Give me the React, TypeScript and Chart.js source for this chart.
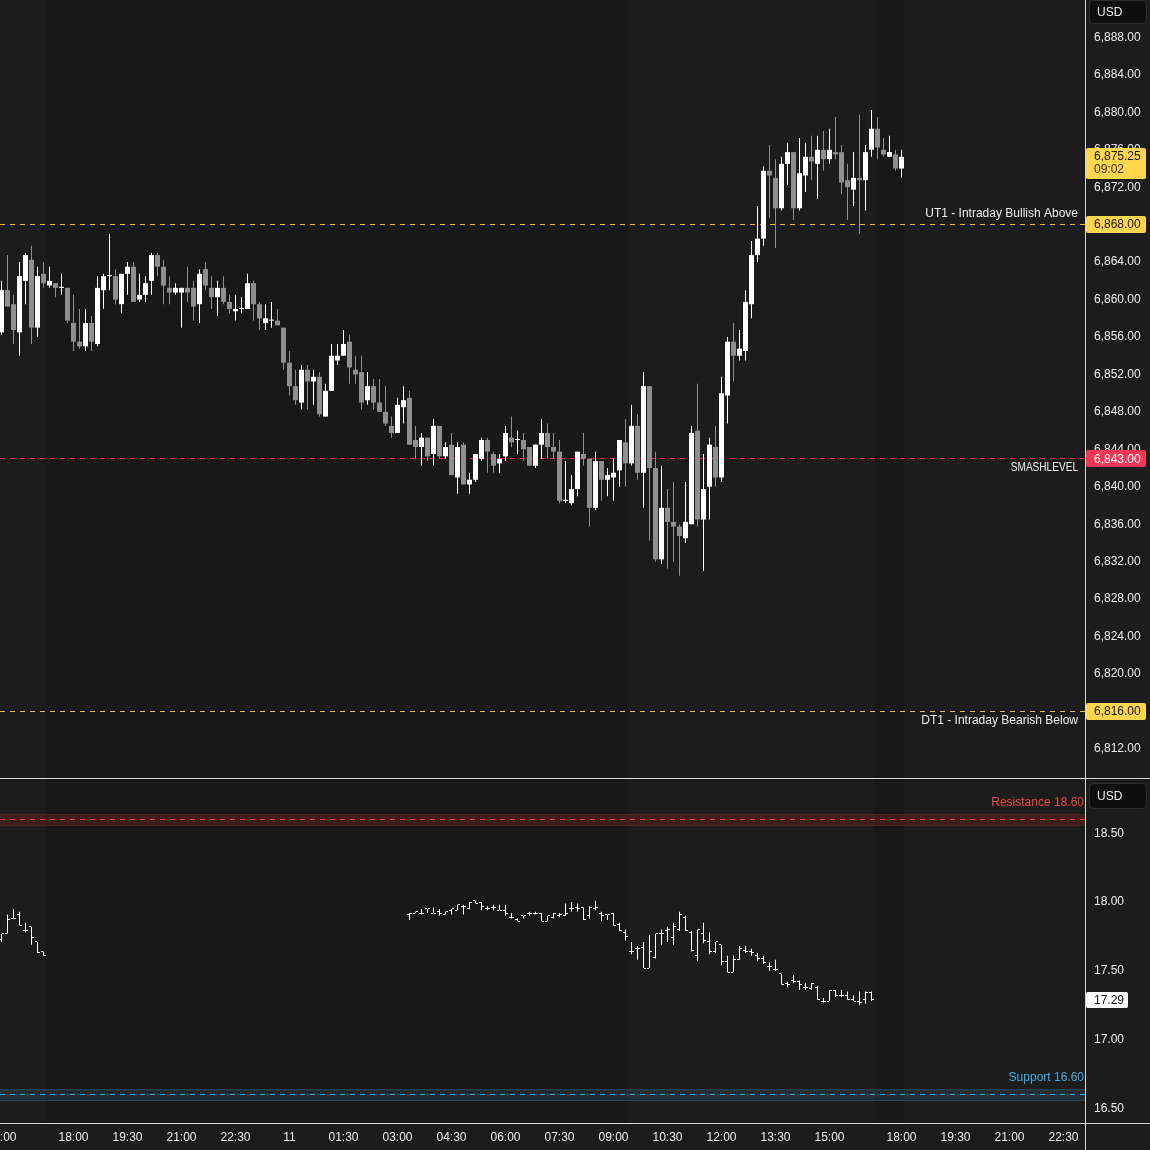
import React, { useEffect, useRef } from 'react';
import { Chart, registerables } from 'chart.js';

Chart.register(...registerables);

// ---------- E-mini S&P 500, 10-minute candles (bar index 0 = 15:00 previous day) ----------
const esOpen = [
  6856.5, 6861.0, 6859.5, 6856.5, 6862.0, 6864.25, 6857.0, 6862.75, 6861.5, 6861.75,
  6861.25, 6861.25, 6857.5, 6855.5, 6855.0, 6857.5, 6855.25, 6861.0, 6862.5, 6862.5,
  6859.5, 6862.75, 6863.5, 6860.0, 6860.5, 6862.0, 6864.75, 6863.5, 6861.25, 6860.75,
  6860.75, 6861.25, 6861.25, 6859.5, 6863.25, 6861.25, 6860.25, 6861.25, 6859.75, 6858.75,
  6859.0, 6859.0, 6861.75, 6859.5, 6857.5, 6857.75, 6857.75, 6857.0, 6853.25, 6850.75,
  6849.0, 6852.5, 6851.25, 6851.75, 6847.5, 6850.25, 6853.5, 6854.0, 6855.5, 6852.5,
  6852.25, 6849.25, 6850.75, 6849.0, 6848.0, 6846.5, 6845.75, 6848.5, 6849.5, 6845.0,
  6844.25, 6845.25, 6843.5, 6846.5, 6843.25, 6844.5, 6841.0, 6844.5, 6840.25, 6840.75,
  6843.0, 6845.0, 6843.5, 6842.5, 6843.25, 6845.25, 6845.0, 6845.0, 6844.25, 6842.25,
  6844.5, 6845.75, 6844.25, 6843.75, 6838.5, 6838.25, 6839.75, 6843.5, 6843.0, 6837.75,
  6842.75, 6840.75, 6841.0, 6841.75, 6844.75, 6842.5, 6846.5, 6841.5, 6850.75, 6842.0,
  6832.25, 6837.75, 6836.25, 6835.75, 6834.5, 6836.0, 6846.0, 6836.5, 6840.0, 6844.25,
  6841.0, 6849.75, 6855.5, 6854.0, 6854.5, 6859.5, 6864.75, 6866.5, 6873.75, 6873.0,
  6869.75, 6874.5, 6875.75, 6869.75, 6873.25, 6875.25, 6874.5, 6876.0, 6875.0, 6875.75,
  6875.75, 6872.75, 6871.75, 6873.0, 6872.75, 6876.0, 6878.25, 6876.0, 6875.25, 6875.5,
  6874.0,
];
const esHigh = [
  6862.0, 6864.75, 6860.5, 6864.0, 6865.0, 6865.75, 6863.5, 6864.0, 6863.5, 6861.75,
  6862.75, 6861.25, 6860.5, 6859.0, 6859.0, 6858.25, 6862.5, 6862.75, 6867.0, 6863.25,
  6862.75, 6864.0, 6864.0, 6862.75, 6862.5, 6865.0, 6865.0, 6864.25, 6862.5, 6861.75,
  6861.25, 6863.5, 6862.0, 6863.25, 6864.0, 6862.5, 6862.0, 6862.5, 6860.5, 6860.5,
  6860.25, 6862.75, 6862.0, 6859.75, 6859.5, 6859.75, 6859.0, 6857.0, 6854.5, 6852.5,
  6853.0, 6853.0, 6852.5, 6852.25, 6851.0, 6855.25, 6855.25, 6856.75, 6856.25, 6854.0,
  6854.0, 6852.25, 6851.5, 6851.5, 6850.75, 6847.5, 6849.5, 6850.75, 6850.25, 6846.5,
  6845.75, 6845.25, 6847.25, 6846.5, 6844.75, 6845.75, 6844.75, 6844.75, 6841.5, 6843.5,
  6845.25, 6845.25, 6843.75, 6843.5, 6846.5, 6847.5, 6846.0, 6845.75, 6844.25, 6844.5,
  6847.25, 6846.75, 6845.75, 6845.0, 6842.75, 6841.25, 6843.75, 6845.75, 6843.0, 6843.75,
  6842.75, 6842.0, 6843.0, 6845.0, 6847.25, 6848.75, 6847.75, 6852.25, 6850.75, 6843.75,
  6842.25, 6839.75, 6840.5, 6836.0, 6840.5, 6846.5, 6851.0, 6843.5, 6845.25, 6846.5,
  6851.75, 6856.0, 6857.5, 6856.75, 6861.0, 6866.25, 6870.0, 6874.25, 6876.5, 6875.0,
  6875.25, 6876.75, 6875.75, 6877.25, 6876.75, 6877.5, 6877.5, 6878.0, 6878.25, 6879.5,
  6876.5, 6874.5, 6875.75, 6879.75, 6876.5, 6880.25, 6879.5, 6877.25, 6877.5, 6876.0,
  6876.0,
];
const esLow = [
  6856.25, 6859.25, 6855.25, 6854.0, 6859.5, 6855.25, 6856.0, 6861.25, 6861.25, 6860.25,
  6860.5, 6857.5, 6854.5, 6854.75, 6854.5, 6854.5, 6855.0, 6859.0, 6861.0, 6859.5,
  6858.5, 6860.5, 6859.75, 6859.75, 6859.75, 6860.5, 6862.5, 6859.5, 6859.5, 6860.5,
  6857.0, 6859.75, 6857.75, 6857.5, 6861.0, 6859.0, 6858.25, 6859.5, 6858.5, 6857.75,
  6858.5, 6859.0, 6857.75, 6856.75, 6856.75, 6857.0, 6857.25, 6852.5, 6849.75, 6848.75,
  6848.25, 6848.25, 6848.75, 6847.5, 6847.5, 6850.25, 6853.0, 6854.0, 6851.0, 6851.0,
  6848.25, 6848.75, 6848.25, 6848.0, 6846.5, 6845.25, 6845.75, 6846.75, 6844.5, 6843.0,
  6842.25, 6842.75, 6842.25, 6843.0, 6843.0, 6841.25, 6839.25, 6840.25, 6839.25, 6840.5,
  6842.75, 6841.5, 6841.5, 6841.5, 6842.75, 6844.25, 6843.5, 6842.75, 6842.25, 6842.0,
  6843.0, 6843.0, 6843.0, 6838.25, 6838.25, 6838.0, 6839.0, 6842.25, 6835.75, 6837.5,
  6838.5, 6839.0, 6838.5, 6840.0, 6840.0, 6842.25, 6840.75, 6837.75, 6834.25, 6832.0,
  6831.75, 6831.25, 6832.0, 6830.5, 6834.0, 6836.0, 6835.75, 6831.0, 6836.5, 6840.0,
  6840.5, 6846.75, 6851.25, 6853.5, 6853.5, 6858.0, 6864.0, 6865.75, 6868.75, 6865.5,
  6869.5, 6872.25, 6868.5, 6869.5, 6871.5, 6872.75, 6870.75, 6873.75, 6874.5, 6875.0,
  6871.25, 6868.5, 6870.0, 6867.0, 6869.5, 6875.25, 6875.0, 6875.25, 6875.25, 6873.75,
  6873.0,
];
const esClose = [
  6861.0, 6859.25, 6856.75, 6862.5, 6864.75, 6857.0, 6862.5, 6861.75, 6862.0, 6861.25,
  6861.25, 6857.75, 6855.5, 6855.0, 6857.5, 6855.5, 6861.25, 6862.5, 6862.5, 6860.0,
  6862.75, 6863.5, 6859.75, 6860.5, 6861.75, 6864.75, 6863.5, 6861.5, 6860.75, 6861.25,
  6861.25, 6860.75, 6859.25, 6862.75, 6861.5, 6860.25, 6861.25, 6859.75, 6859.0, 6859.0,
  6859.0, 6861.75, 6859.5, 6858.0, 6858.0, 6857.75, 6857.25, 6853.25, 6850.75, 6849.25,
  6852.5, 6851.25, 6851.75, 6847.75, 6850.25, 6854.0, 6854.0, 6855.25, 6852.75, 6852.0,
  6849.0, 6850.75, 6849.0, 6848.0, 6846.75, 6845.75, 6848.75, 6849.25, 6844.5, 6844.25,
  6845.25, 6843.25, 6846.5, 6843.25, 6844.25, 6841.25, 6844.25, 6840.25, 6840.75, 6843.5,
  6845.0, 6843.75, 6842.25, 6843.0, 6845.75, 6844.75, 6845.0, 6844.0, 6842.25, 6844.5,
  6845.75, 6844.25, 6843.75, 6838.5, 6838.5, 6839.75, 6843.75, 6843.0, 6837.75, 6842.75,
  6840.75, 6841.25, 6841.5, 6845.0, 6842.5, 6846.5, 6841.5, 6850.75, 6842.0, 6832.25,
  6837.75, 6836.25, 6835.75, 6834.75, 6836.25, 6845.75, 6836.5, 6839.75, 6844.5, 6841.0,
  6850.0, 6855.5, 6854.0, 6854.75, 6859.75, 6864.75, 6866.5, 6873.75, 6873.25, 6869.75,
  6874.5, 6875.75, 6869.75, 6873.5, 6875.25, 6874.75, 6876.0, 6875.0, 6876.0, 6875.5,
  6872.5, 6872.0, 6873.0, 6872.75, 6875.75, 6878.25, 6876.25, 6875.5, 6875.75, 6874.0,
  6875.25,
];

// ---------- VIX, OHLC bars (two trading segments) ----------
const vixEveningStart = 0;
const vixEveningOpen = [17.73, 17.77, 17.88, 17.91, 17.79, 17.82, 17.71, 17.64];
const vixEveningHigh = [17.77, 17.91, 17.95, 17.93, 17.85, 17.82, 17.71, 17.64];
const vixEveningLow = [17.71, 17.77, 17.88, 17.83, 17.78, 17.69, 17.63, 17.61];
const vixEveningClose = [17.77, 17.87, 17.88, 17.83, 17.79, 17.74, 17.63, 17.61];

const vixMorningStart = 68;
const vixMorningOpen = [
  17.91, 17.92, 17.92, 17.95, 17.92, 17.93, 17.91, 17.94, 17.94, 17.97,
  17.95, 18.01, 18.00, 17.95, 17.96, 17.94, 17.94, 17.89, 17.87, 17.90,
  17.92, 17.92, 17.92, 17.86, 17.89, 17.90, 17.90, 17.95, 17.96, 17.96,
  17.90, 17.95, 17.92, 17.91, 17.92, 17.84, 17.78, 17.64, 17.66, 17.67,
  17.52, 17.60, 17.77, 17.79, 17.74, 17.80, 17.89, 17.78, 17.61, 17.77,
  17.71, 17.64, 17.69, 17.57, 17.49, 17.58, 17.65, 17.64, 17.61, 17.59,
  17.53, 17.51, 17.48, 17.41, 17.43, 17.42, 17.38, 17.37, 17.38, 17.28,
  17.28, 17.36, 17.32, 17.32, 17.29, 17.28, 17.29, 17.34,
];
const vixMorningHigh = [
  17.92, 17.93, 17.95, 17.95, 17.96, 17.95, 17.93, 17.95, 17.98, 17.98,
  18.00, 18.01, 18.00, 17.97, 17.98, 17.98, 17.98, 17.92, 17.88, 17.90,
  17.93, 17.93, 17.92, 17.90, 17.92, 17.92, 17.99, 18.00, 17.99, 17.96,
  17.97, 18.01, 17.93, 17.91, 17.92, 17.85, 17.80, 17.71, 17.68, 17.71,
  17.76, 17.77, 17.80, 17.82, 17.85, 17.93, 17.90, 17.79, 17.80, 17.85,
  17.78, 17.71, 17.69, 17.61, 17.61, 17.68, 17.68, 17.66, 17.63, 17.61,
  17.56, 17.58, 17.48, 17.42, 17.47, 17.43, 17.41, 17.41, 17.39, 17.30,
  17.36, 17.36, 17.36, 17.35, 17.32, 17.35, 17.35, 17.35,
];
const vixMorningLow = [
  17.87, 17.92, 17.91, 17.92, 17.92, 17.90, 17.91, 17.91, 17.94, 17.91,
  17.95, 17.99, 17.94, 17.94, 17.94, 17.94, 17.90, 17.88, 17.86, 17.88,
  17.90, 17.91, 17.86, 17.86, 17.88, 17.89, 17.90, 17.93, 17.93, 17.87,
  17.88, 17.94, 17.86, 17.87, 17.83, 17.79, 17.72, 17.62, 17.58, 17.52,
  17.52, 17.59, 17.69, 17.71, 17.69, 17.79, 17.79, 17.64, 17.57, 17.70,
  17.62, 17.63, 17.54, 17.49, 17.49, 17.58, 17.63, 17.61, 17.57, 17.55,
  17.50, 17.50, 17.40, 17.38, 17.41, 17.36, 17.36, 17.36, 17.29, 17.27,
  17.28, 17.31, 17.31, 17.29, 17.28, 17.25, 17.26, 17.28,
];
const vixMorningClose = [
  17.92, 17.93, 17.92, 17.95, 17.92, 17.92, 17.93, 17.95, 17.98, 17.97,
  18.00, 17.99, 17.97, 17.95, 17.96, 17.94, 17.92, 17.89, 17.86, 17.90,
  17.92, 17.92, 17.86, 17.90, 17.92, 17.91, 17.92, 17.95, 17.95, 17.87,
  17.96, 17.96, 17.90, 17.91, 17.83, 17.79, 17.75, 17.64, 17.66, 17.52,
  17.64, 17.77, 17.77, 17.80, 17.82, 17.91, 17.79, 17.65, 17.80, 17.72,
  17.64, 17.71, 17.57, 17.49, 17.58, 17.66, 17.64, 17.63, 17.59, 17.56,
  17.53, 17.51, 17.40, 17.40, 17.42, 17.40, 17.38, 17.41, 17.29, 17.28,
  17.36, 17.32, 17.32, 17.29, 17.28, 17.27, 17.34, 17.29,
];

// ---------- axes ----------
const xTickIndex = [0, 12, 21, 30, 39, 48, 57, 66, 75, 84, 93, 102, 111, 120, 129, 138, 150, 159, 168, 177];
const xTickLabels = ['15:00', '18:00', '19:30', '21:00', '22:30', '11', '01:30', '03:00', '04:30', '06:00',
  '07:30', '09:00', '10:30', '12:00', '13:30', '15:00', '18:00', '19:30', '21:00', '22:30'];
const xRange = [-0.25, 180.583];
const esTicks = [6812, 6816, 6820, 6824, 6828, 6832, 6836, 6840, 6844, 6848, 6852, 6856, 6860, 6864, 6868, 6872, 6876, 6880, 6884, 6888];
const esRange = [6808.89, 6892.0];
const vixTicks = [16.5, 17.0, 17.5, 18.0, 18.5];
const vixRange = [16.393, 18.902];
const extendedSessions = [[7.5, 104.5], [145.5, 150.5]];

// ---------- levels ----------
const levelNames = ['UT1 - Intraday Bullish Above', 'SMASHLEVEL', 'DT1 - Intraday Bearish Below'];
const levelValues = [6868, 6843, 6816];
const zoneNames = ['Resistance', 'Support'];
const zoneValues = [18.6, 16.6];
const lastPrice = 6875.25;
const countdown = '09:02';
const vixLast = 17.29;
const currency = 'USD';

// ---------- styles ----------
const FONT = '"Liberation Sans", Arial, sans-serif';
const BG = '#1c1c1c';
const BG_EXT = '#181818';
const TEXT = '#ededed';
const SEP = '#d8d8d8';
const UP = '#ffffff';
const DOWN = '#8f8f8f';
const YELLOW_BOX = '#ffd64d';
const RED_BOX = '#f23655';
const levelLine = ['#f5b800', '#ff1f55', '#e6c24a'];
const levelBox = [YELLOW_BOX, RED_BOX, YELLOW_BOX];
const levelBoxText = ['#161616', '#ffffff', '#161616'];
const levelLabelDy = [-11, 9, 9];
const levelLabelSquash = [1, 0.84, 1];
const zoneLine = ['#f0463a', '#1eb4ff'];
const zoneText = ['#ee4a3f', '#3fb0e6'];
const zoneBand = ['rgba(110,30,30,0.45)', 'rgba(40,80,100,0.35)'];
const zoneBorder = ['#4a2424', '#2a4452'];
const ZONE_HALF = 0.042;
const DASH_ON = 5;
const DASH_OFF = 5;

const fmt2 = (v: number) => v.toLocaleString('en-US', { minimumFractionDigits: 2, maximumFractionDigits: 2 });

function rr(ctx: CanvasRenderingContext2D, x: number, y: number, w: number, h: number, r: number) {
  ctx.beginPath();
  ctx.moveTo(x + r, y);
  ctx.lineTo(x + w - r, y);
  ctx.quadraticCurveTo(x + w, y, x + w, y + r);
  ctx.lineTo(x + w, y + h - r);
  ctx.quadraticCurveTo(x + w, y + h, x + w - r, y + h);
  ctx.lineTo(x + r, y + h);
  ctx.quadraticCurveTo(x, y + h, x, y + h - r);
  ctx.lineTo(x, y + r);
  ctx.quadraticCurveTo(x, y, x + r, y);
  ctx.closePath();
}

const backgroundPlugin = {
  id: 'tvBackground',
  beforeDraw(chart: any) {
    const { ctx, width, height, chartArea, scales } = chart;
    ctx.save();
    ctx.fillStyle = BG;
    ctx.fillRect(0, 0, width, height);
    ctx.fillStyle = BG_EXT;
    for (const [a, b] of extendedSessions) {
      const x0 = scales.x.getPixelForValue(a);
      const x1 = scales.x.getPixelForValue(b);
      ctx.fillRect(x0, chartArea.top, x1 - x0, chartArea.bottom - chartArea.top);
    }
    zoneValues.forEach((v, i) => {
      const yA = Math.round(scales.y2.getPixelForValue(v + ZONE_HALF));
      const yB = Math.round(scales.y2.getPixelForValue(v - ZONE_HALF));
      ctx.fillStyle = zoneBand[i];
      ctx.fillRect(chartArea.left, yA, chartArea.right - chartArea.left, yB - yA);
      ctx.fillStyle = zoneBorder[i];
      ctx.fillRect(chartArea.left, yA, chartArea.right - chartArea.left, 1);
      ctx.fillRect(chartArea.left, yB, chartArea.right - chartArea.left, 1);
    });
    ctx.restore();
  },
};

// dashed horizontal levels (1px, pixel-snapped), drawn under the candles
const levelLinePlugin = {
  id: 'levelLines',
  beforeDatasetsDraw(chart: any) {
    const { ctx, chartArea, scales } = chart;
    ctx.save();
    const line = (py: number, color: string) => {
      const y = Math.floor(py);
      ctx.fillStyle = color;
      for (let x = chartArea.left; x < chartArea.right; x += DASH_ON + DASH_OFF) {
        ctx.fillRect(x, y, Math.min(DASH_ON, chartArea.right - x), 1);
      }
    };
    levelValues.forEach((v, i) => line(scales.y.getPixelForValue(v), levelLine[i]));
    zoneValues.forEach((v, i) => line(scales.y2.getPixelForValue(v), zoneLine[i]));
    ctx.restore();
  },
};

const ohlcTickPlugin = {
  id: 'ohlcTicks',
  afterDatasetsDraw(chart: any) {
    const { ctx, scales } = chart;
    const xs = scales.x;
    const ys = scales.y2;
    ctx.save();
    ctx.fillStyle = '#ffffff';
    const draw = (start: number, opens: number[], closes: number[]) => {
      opens.forEach((o, i) => {
        const px = xs.getPixelForValue(start + i);
        const yo = Math.floor(ys.getPixelForValue(o));
        const yc = Math.floor(ys.getPixelForValue(closes[i]));
        ctx.fillRect(px - 2.5, yo, 2, 1);
        ctx.fillRect(px + 0.5, yc, 2, 1);
      });
    };
    draw(vixEveningStart, vixEveningOpen, vixEveningClose);
    draw(vixMorningStart, vixMorningOpen, vixMorningClose);
    ctx.restore();
  },
};

const overlayPlugin = {
  id: 'tvOverlay',
  afterDraw(chart: any) {
    const { ctx, width, height, chartArea, scales } = chart;
    const ys = scales.y;
    const y2 = scales.y2;
    const xs = scales.x;
    ctx.save();
    ctx.fillStyle = SEP;
    ctx.fillRect(0, Math.round(y2.top), width, 1);
    ctx.fillRect(0, Math.round(xs.top), width, 1);
    ctx.fillRect(Math.round(chartArea.right), 0, 1, height);

    ctx.font = `12px ${FONT}`;
    ctx.textBaseline = 'middle';

    ctx.textAlign = 'right';
    levelValues.forEach((v, i) => {
      const py = ys.getPixelForValue(v);
      const k = levelLabelSquash[i];
      ctx.save();
      ctx.translate(chartArea.right - 7, py + levelLabelDy[i]);
      ctx.scale(k, 1);
      ctx.fillStyle = TEXT;
      ctx.fillText(levelNames[i], 0, 0);
      ctx.restore();
    });
    zoneValues.forEach((v, i) => {
      const py = y2.getPixelForValue(v);
      ctx.fillStyle = zoneText[i];
      ctx.fillText(`${zoneNames[i]} ${v.toFixed(2)}`, chartArea.right - 1, py - 16.5);
    });

    const bx = Math.round(chartArea.right) + 1;
    ctx.textAlign = 'left';
    levelValues.forEach((v, i) => {
      const py = ys.getPixelForValue(v);
      ctx.fillStyle = levelBox[i];
      rr(ctx, bx, Math.round(py - 8.5), 60, 17, 2);
      ctx.fill();
      ctx.fillStyle = levelBoxText[i];
      ctx.fillText(fmt2(v), bx + 8, py + 0.5);
    });
    {
      const py = ys.getPixelForValue(lastPrice);
      ctx.fillStyle = YELLOW_BOX;
      rr(ctx, bx, Math.round(py - 8.5), 60, 31, 2);
      ctx.fill();
      ctx.fillStyle = '#161616';
      ctx.fillText(fmt2(lastPrice), bx + 8, py - 0.5);
      ctx.fillStyle = '#3a3220';
      ctx.fillText(countdown, bx + 8, py + 13);
    }
    {
      const py = y2.getPixelForValue(vixLast);
      ctx.fillStyle = '#ffffff';
      rr(ctx, bx, Math.round(py - 7.5), 42, 16, 2);
      ctx.fill();
      ctx.fillStyle = '#111111';
      ctx.fillText(vixLast.toFixed(2), bx + 8, py + 1);
    }
    const usd = (top: number, h: number) => {
      ctx.fillStyle = '#0e0e0e';
      rr(ctx, bx + 3.5, top + 0.5, 57, h, 4);
      ctx.fill();
      ctx.strokeStyle = '#2e2e2e';
      ctx.lineWidth = 1;
      ctx.stroke();
      ctx.fillStyle = TEXT;
      ctx.fillText(currency, bx + 11, top + h / 2 + 1);
    };
    usd(ys.top, 23);
    usd(y2.top + 5, 25);
    ctx.restore();
  },
};

export default function App() {
  const ref = useRef<HTMLCanvasElement>(null);
  useEffect(() => {
    document.body.style.margin = '0';
    document.body.style.background = BG;
    const canvas = ref.current;
    if (!canvas) return;
    Chart.defaults.font.family = FONT;
    Chart.defaults.font.size = 12;

    const idx = esOpen.map((_, i) => i);
    const candleColor = idx.map((i) => (esClose[i] >= esOpen[i] ? UP : DOWN));
    const vixRangeData = [
      ...vixEveningLow.map((l, i) => ({ x: vixEveningStart + i, y: [l, vixEveningHigh[i]] })),
      ...vixMorningLow.map((l, i) => ({ x: vixMorningStart + i, y: [l, vixMorningHigh[i]] })),
    ];

    const chart = new Chart(canvas, {
      type: 'bar',
      data: {
        datasets: [
          {
            type: 'bar',
            data: idx.map((i) => ({ x: i, y: [esLow[i], esHigh[i]] })),
            yAxisID: 'y',
            backgroundColor: candleColor,
            barThickness: 1,
            grouped: false,
            inflateAmount: 0,
            borderWidth: 0,
            order: 2,
          } as any,
          {
            type: 'bar',
            data: idx.map((i) => ({ x: i, y: [esOpen[i], esClose[i]] })),
            yAxisID: 'y',
            backgroundColor: candleColor,
            barThickness: 5,
            minBarLength: 1,
            grouped: false,
            inflateAmount: 0,
            borderWidth: 0,
            order: 1,
          } as any,
          {
            type: 'bar',
            data: vixRangeData,
            yAxisID: 'y2',
            backgroundColor: '#ffffff',
            barThickness: 1,
            grouped: false,
            inflateAmount: 0,
            borderWidth: 0,
            order: 1,
          } as any,
        ],
      },
      options: {
        animation: false,
        responsive: false,
        devicePixelRatio: 1,
        events: [],
        layout: { padding: 0, autoPadding: false } as any,
        plugins: { legend: { display: false }, tooltip: { enabled: false } },
        scales: {
          x: {
            type: 'linear',
            position: 'bottom',
            min: xRange[0],
            max: xRange[1],
            offset: false,
            grid: { display: false, drawTicks: false },
            border: { display: false },
            ticks: {
              autoSkip: false,
              maxRotation: 0,
              minRotation: 0,
              padding: 7,
              color: TEXT,
              font: { family: FONT, size: 12 },
              callback: (_v: any, i: number) => xTickLabels[i],
            },
            afterBuildTicks: (s: any) => {
              s.ticks = xTickIndex.map((v) => ({ value: v }));
            },
            afterFit: (s: any) => {
              s.height = 27;
              s.paddingLeft = 0;
              s.paddingRight = 0;
            },
          },
          y: {
            type: 'linear',
            position: 'right',
            stack: 'panes',
            stackWeight: 778,
            min: esRange[0],
            max: esRange[1],
            grid: { display: false, drawTicks: false },
            border: { display: false },
            ticks: {
              padding: 9,
              color: TEXT,
              font: { family: FONT, size: 12 },
              callback: (v: any) => fmt2(Number(v)),
            },
            afterBuildTicks: (s: any) => {
              s.ticks = esTicks.map((v) => ({ value: v }));
            },
            afterFit: (s: any) => {
              s.width = 65;
              s.paddingTop = 0;
              s.paddingBottom = 0;
            },
          },
          y2: {
            type: 'linear',
            position: 'right',
            stack: 'panes',
            stackWeight: 345,
            min: vixRange[0],
            max: vixRange[1],
            grid: { display: false, drawTicks: false },
            border: { display: false },
            ticks: {
              padding: 9,
              color: TEXT,
              font: { family: FONT, size: 12 },
              callback: (v: any) => Number(v).toFixed(2),
            },
            afterBuildTicks: (s: any) => {
              s.ticks = vixTicks.map((v) => ({ value: v }));
            },
            afterFit: (s: any) => {
              s.width = 65;
              s.paddingTop = 0;
              s.paddingBottom = 0;
            },
          },
        } as any,
      },
      plugins: [backgroundPlugin, levelLinePlugin, ohlcTickPlugin, overlayPlugin],
    });
    return () => chart.destroy();
  }, []);

  return (
    <div style={{ width: 1150, height: 1150 }}>
      <canvas ref={ref} width={1150} height={1150} style={{ display: 'block', width: 1150, height: 1150 }} />
    </div>
  );
}
